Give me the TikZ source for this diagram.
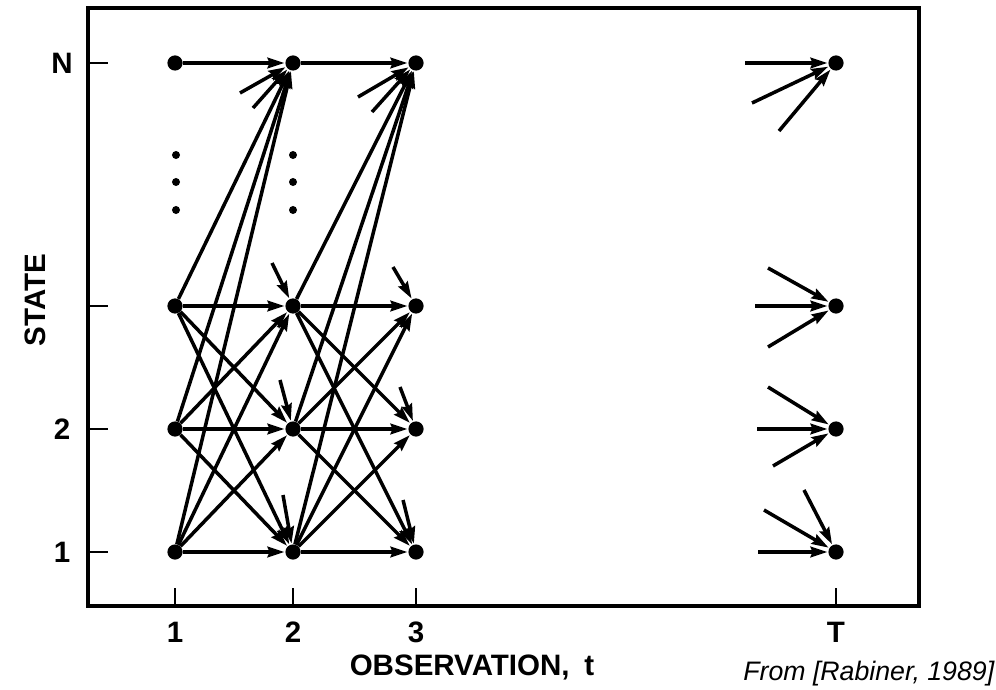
\documentclass[tikz,border=0pt]{standalone}
\usepackage{fontspec}
\setmainfont{Liberation Sans}
\usetikzlibrary{arrows.meta}

\begin{document}
\begin{tikzpicture}[x=0.025cm,y=-0.025cm,
    state/.style={circle,fill=black,inner sep=0pt,minimum size=0.38cm},
    trans/.style={-{Stealth[length=12pt,width=7.5pt,inset=1.5pt]},line width=2.5pt,shorten >=0.5pt},
    axislabel/.style={font=\fontsize{21}{24}\selectfont\bfseries},
    tick/.style={line width=1.7pt}]

  \useasboundingbox (0,0) rectangle (996,690);

  % frame
  \draw[line width=2.6pt] (88,8) rectangle (919,606);

  % states: columns 1,2,3,T and rows 1,2,3,N
  \foreach \c/\x in {1/175,2/293,3/416,T/836}
    \foreach \r/\y in {1/552,2/429,3/306,N/63}
      \node[state] (s\c\r) at (\x,\y) {};

  % axes
  \foreach \c/\x in {1/175,2/293,3/416,T/836} {
    \draw[tick] (\x,606) -- (\x,588);
    \node[axislabel] (xl\c) at (\x,632) {\c};
  }
  \foreach \y in {552,429,306,63}
    \draw[tick] (88,\y) -- (108,\y);
  \foreach \r/\y in {1/552,2/429,N/63}
    \node[axislabel] (yl\r) at (62,\y) {\r};

  \node[axislabel,rotate=90] (ylab) at (35,300) {STATE};
  \node[axislabel] (xlab) at (472,667) {OBSERVATION,\enspace t};
  \node[font=\fontsize{19}{22}\selectfont\itshape,anchor=base west,inner sep=0pt]
    (src) at (743,680) {From [Rabiner, 1989]};

  % vertical dots
  \foreach \x in {176,293}
    \foreach \y in {155,182,210}
      \fill (\x,\y) circle (0.1cm);

  % full transitions between the first columns
  \foreach \a/\b in {1/2,2/3} {
    \draw[trans] (s\a N) -- (s\b N);
    \foreach \i in {1,2,3}
      \foreach \j in {1,2,3,N}
        \draw[trans] (s\a\i) -- (s\b\j);
  }

  % incoming stubs
  \foreach \n/\x/\y/\t in {u1/240/93/s2N, u2/253/108/s2N,
      u3/358/97/s3N, u4/372/112/s3N,
      u5/272/263/s23, u6/280/380/s22, u7/283/495/s21,
      u8/393/267/s33, u9/400/387/s32, u10/403/500/s31,
      v1/745/63/sTN, v2/752/103/sTN, v3/779/131/sTN,
      v4/768/268/sT3, v5/755/306/sT3, v6/768/347/sT3,
      v7/768/387/sT2, v8/757/429/sT2, v9/773/466/sT2,
      v10/764/510/sT1, v11/804/490/sT1, v12/758/552/sT1} {
    \coordinate (\n) at (\x,\y);
    \draw[trans] (\n) -- (\t);
  }
\end{tikzpicture}
\end{document}
